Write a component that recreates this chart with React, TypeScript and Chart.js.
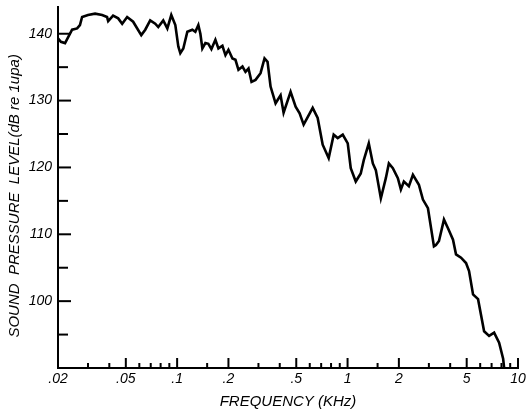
import React, { useEffect, useRef } from "react";
import { Chart, registerables } from "chart.js";

Chart.register(...registerables);

// Frequency (kHz) and sound pressure level (dB re 1 µPa)
const freqKHz = [
  0.02, 0.0208, 0.022, 0.0242, 0.0259, 0.0269, 0.0277, 0.03, 0.033, 0.0363,
  0.0388, 0.0394, 0.0421, 0.0451, 0.0476, 0.0509, 0.0552, 0.0616, 0.065, 0.0695,
  0.0744, 0.0775, 0.0829, 0.0876, 0.0924, 0.0976, 0.1016, 0.1044, 0.1087, 0.1148,
  0.1228, 0.1279, 0.1332, 0.1369, 0.1406, 0.1465, 0.1525, 0.1589, 0.1677, 0.1747,
  0.1844, 0.1921, 0.2, 0.2111, 0.2199, 0.229, 0.2418, 0.2518, 0.2623, 0.2732,
  0.2884, 0.3086, 0.3257, 0.3393, 0.3534, 0.3781, 0.4046, 0.4214, 0.4632, 0.4957,
  0.5233, 0.5525, 0.6242, 0.6677, 0.7145, 0.7748, 0.8292, 0.8756, 0.9369, 1.0024,
  1.044, 1.117, 1.195, 1.245, 1.332, 1.407, 1.465, 1.568, 1.677, 1.747,
  1.844, 1.973, 2.055, 2.14, 2.29, 2.418, 2.622, 2.768, 2.962, 3.212,
  3.3, 3.438, 3.678, 3.884, 4.156, 4.328, 4.632, 4.956, 5.162, 5.448,
  5.83, 6.325, 6.768, 7.244, 7.748, 8.18, 8.29,
];
const levelDb = [
  139.3, 138.8, 138.6, 140.6, 140.8, 141.3, 142.5, 142.8, 143.0, 142.8,
  142.5, 141.9, 142.7, 142.3, 141.5, 142.5, 141.8, 139.8, 140.6, 142.0,
  141.5, 141.0, 142.0, 140.8, 142.8, 141.3, 138.1, 137.1, 137.8, 140.3,
  140.6, 140.3, 141.3, 140.0, 137.8, 138.6, 138.5, 137.7, 139.1, 137.8,
  138.2, 136.8, 137.6, 136.3, 136.1, 134.6, 135.1, 134.3, 134.8, 132.8,
  133.1, 134.1, 136.3, 135.8, 132.1, 129.6, 130.8, 128.2, 131.3, 129.1,
  128.1, 126.4, 128.9, 127.4, 123.4, 121.4, 124.9, 124.4, 124.9, 123.6,
  119.9, 117.9, 119.1, 121.1, 123.6, 120.6, 119.6, 115.4, 118.4, 120.6,
  119.9, 118.4, 116.7, 117.9, 117.2, 118.9, 117.4, 115.2, 113.9, 108.2,
  108.4, 109.0, 112.2, 110.9, 109.2, 107.0, 106.5, 105.7, 104.5, 101.0,
  100.3, 95.5, 94.8, 95.3, 93.8, 91.4, 90.0,
];

const xMajorTicks = [0.02, 0.05, 0.1, 0.2, 0.5, 1, 2, 5, 10];
const xMinorTicks = [0.03, 0.04, 0.06, 0.07, 0.08, 0.09, 0.15, 0.3, 0.4, 0.6, 0.7, 0.8, 0.9, 1.5, 3, 4, 6, 7, 8, 9];
const yMajorTicks = [100, 110, 120, 130, 140];
const yMinorTicks = [95, 105, 115, 125, 135];

const xTitle = "FREQUENCY (KHz)";
const yTitle = "SOUND  PRESSURE  LEVEL(dB re 1upa)    ";

const FONT = "'Liberation Sans', Arial, sans-serif";

const innerTicks = {
  id: "innerTicks",
  afterDraw(chart: any) {
    const { ctx, scales } = chart;
    const xs = scales.x;
    const ys = scales.y;
    const bottom = ys.bottom;
    const left = xs.left;
    ctx.save();
    ctx.strokeStyle = "#000";
    ctx.lineWidth = 2;
    const drawX = (v: number, len: number) => {
      const px = xs.getPixelForValue(v);
      ctx.beginPath();
      ctx.moveTo(px, bottom);
      ctx.lineTo(px, bottom - len);
      ctx.stroke();
    };
    const drawY = (v: number, len: number) => {
      const py = ys.getPixelForValue(v);
      ctx.beginPath();
      ctx.moveTo(left, py);
      ctx.lineTo(left + len, py);
      ctx.stroke();
    };
    xMajorTicks.forEach((v) => drawX(v, 10));
    xMinorTicks.forEach((v) => drawX(v, 5));
    yMajorTicks.forEach((v) => drawY(v, 13));
    yMinorTicks.forEach((v) => drawY(v, 10));
    ctx.restore();
  },
};

function fmtX(v: number) {
  return v < 1 ? String(v).replace(/^0\./, ".") : String(v);
}

export default function App() {
  const ref = useRef<HTMLCanvasElement | null>(null);

  useEffect(() => {
    if (!ref.current) return;
    const points = freqKHz.map((f, i) => ({ x: f, y: levelDb[i] }));
    const chart = new Chart(ref.current, {
      type: "line",
      data: {
        datasets: [
          {
            data: points,
            borderColor: "#000",
            borderWidth: 2.6,
            pointRadius: 0,
            tension: 0,
            fill: false,
          },
        ],
      },
      options: {
        responsive: false,
        animation: false,
        layout: { padding: { left: 0, right: 8, top: 7, bottom: 0 } },
        plugins: { legend: { display: false }, tooltip: { enabled: false } },
        scales: {
          x: {
            type: "logarithmic",
            min: 0.02,
            max: 10,
            grid: { display: false, drawTicks: false },
            border: { display: true, color: "#000", width: 2 },
            afterBuildTicks: (scale: any) => {
              scale.ticks = xMajorTicks.map((v) => ({ value: v }));
            },
            afterFit: (scale: any) => {
              scale.height = 44;
              scale.paddingLeft = 0;
              scale.paddingRight = 0;
            },
            ticks: {
              autoSkip: false,
              maxRotation: 0,
              padding: 3,
              color: "#000",
              font: { family: FONT, size: 14, style: "italic" },
              callback: (v: any) => fmtX(Number(v)),
            },
            title: {
              display: true,
              text: xTitle,
              color: "#000",
              padding: { top: 0, bottom: 1 },
              font: { family: FONT, size: 15, style: "italic" },
            },
          },
          y: {
            type: "linear",
            min: 90,
            max: 144,
            grid: { display: false, drawTicks: false },
            border: { display: true, color: "#000", width: 2 },
            afterBuildTicks: (scale: any) => {
              scale.ticks = yMajorTicks.map((v) => ({ value: v }));
            },
            afterFit: (scale: any) => {
              scale.width = 58;
              scale.paddingTop = 0;
              scale.paddingBottom = 0;
            },
            ticks: {
              padding: 6,
              color: "#000",
              font: { family: FONT, size: 14, style: "italic" },
            },
            title: {
              display: true,
              text: yTitle,
              color: "#000",
              padding: { top: 6, bottom: 0 },
              font: { family: FONT, size: 15, style: "italic" },
            },
          },
        },
      },
      plugins: [innerTicks],
    });
    return () => chart.destroy();
  }, []);

  return (
    <div style={{ position: "fixed", left: 0, top: 0, width: 526, height: 412, background: "#fff" }}>
      <canvas ref={ref} width={526} height={412} />
    </div>
  );
}
